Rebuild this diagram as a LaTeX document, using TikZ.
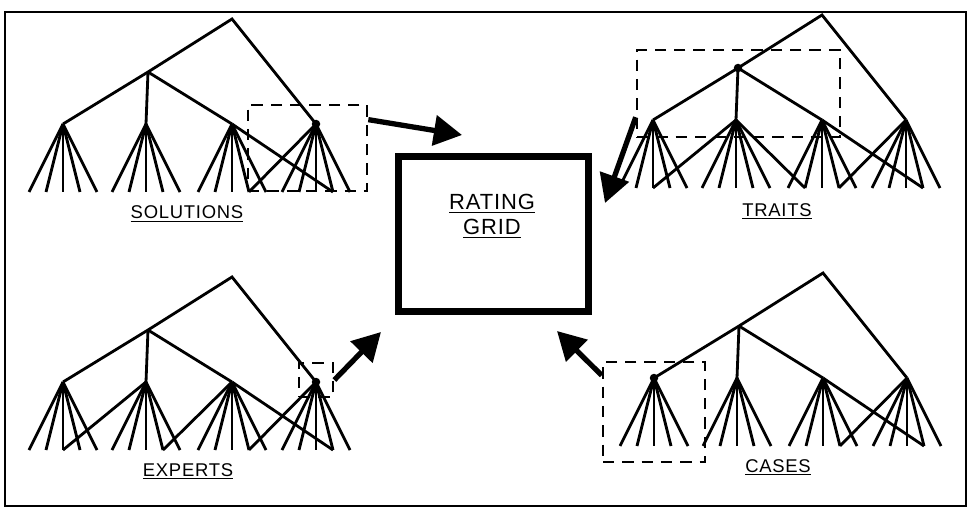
\documentclass[tikz,border=0pt]{standalone}
\usepackage{fontspec}
\usepackage{tikz}
\usetikzlibrary{arrows.meta}
\newfontfamily\lblfont{Liberation Sans}[LetterSpace=4]

\begin{document}
\begin{tikzpicture}[x=0.02cm, y=-0.02cm,
  edge/.style={line width=1.6pt},
  selbox/.style={draw, line width=1.5pt, dash pattern=on 6.5pt off 4.5pt, inner sep=0pt},
  gridbox/.style={draw, line width=4pt, inner sep=0pt, minimum width=3.8cm, minimum height=3.1cm},
  gridtxt/.style={align=center, inner sep=0pt, font=\lblfont\fontsize{12.5}{14.2}\selectfont},
  lbl/.style={anchor=base, inner sep=0pt, font=\lblfont\fontsize{10.5}{12}\selectfont},
  dot/.style={circle, fill, inner sep=0pt, minimum size=1.7mm},
  feed/.style={-{Triangle[length=16pt, width=17pt]}, line width=3pt},
  hier/.pic={
    \coordinate (-r) at (0,0);
    \coordinate (-m) at (-84,53);
    \foreach \cn/\cx in {1/-169,2/-86,3/0,4/84}{
      \coordinate (-c\cn) at (\cx,105);
      \foreach \lf/\lx in {1/-34,2/-17,3/0,4/17,5/34}
        \draw[edge] (-c\cn) -- (\cx+\lx,173) coordinate (-l\cn\lf);
    }
    \draw[edge] (-c1) -- (-m) -- (-r) -- (-c4);
    \draw[edge] (-m) -- (-c2); \draw[edge] (-m) -- (-c3);
    \draw[edge] (-c3) -- (-l44); \draw[edge] (-c4) -- (-l34);
  }]
  \useasboundingbox (0,0) rectangle (970,513);
  \draw[line width=1.3pt] (5,12) rectangle (966,506);

  \pic (sol) at (232,19) {hier};
  \pic (tra) at (822,15) {hier};
  \pic (exp) at (232,277) {hier};
  \pic (cas) at (823,273) {hier};
  \draw[edge] (tra-c2) -- (tra-l13); \draw[edge] (tra-c2) -- (tra-l32);
  \draw[edge] (exp-c2) -- (exp-l13); \draw[edge] (exp-c3) -- (exp-l24);

  \node[dot] (soldot) at (sol-c4) {};
  \node[dot] (tradot) at (tra-m) {};
  \node[dot] (expdot) at (exp-c4) {};
  \node[dot] (casdot) at (cas-c1) {};

  \node[selbox, minimum width=2.38cm, minimum height=1.72cm] (solbox) at (307.5,148) {};
  \node[selbox, minimum width=4.06cm, minimum height=1.74cm] (trabox) at (738.5,93.5) {};
  \node[selbox, minimum width=0.68cm, minimum height=0.68cm] (expbox) at (316,380) {};
  \node[selbox, minimum width=2.04cm, minimum height=2.0cm] (casbox) at (654,412) {};

  \node[gridbox] (grid) at (493.5,234) {};
  \node[gridtxt] (gridlbl) at (492,216) {\underline{RATING}\\\underline{GRID}};

  \coordinate (soltip) at (462,135);
  \coordinate (tratip) at (605,203);
  \coordinate (exptip) at (381,332);
  \coordinate (castip) at (557,331);
  \draw[feed] (solbox.25) -- (soltip);
  \draw[feed] (trabox.193) -- (tratip);
  \draw[feed] (expbox.east) -- (exptip);
  \draw[feed] (casbox.145) -- (castip);

  \node[lbl] (sollbl) at (187,219) {\underline{SOLUTIONS}};
  \node[lbl] (tralbl) at (777,216) {\underline{TRAITS}};
  \node[lbl] (explbl) at (188,476) {\underline{EXPERTS}};
  \node[lbl] (caslbl) at (778,472) {\underline{CASES}};
\end{tikzpicture}
\end{document}
